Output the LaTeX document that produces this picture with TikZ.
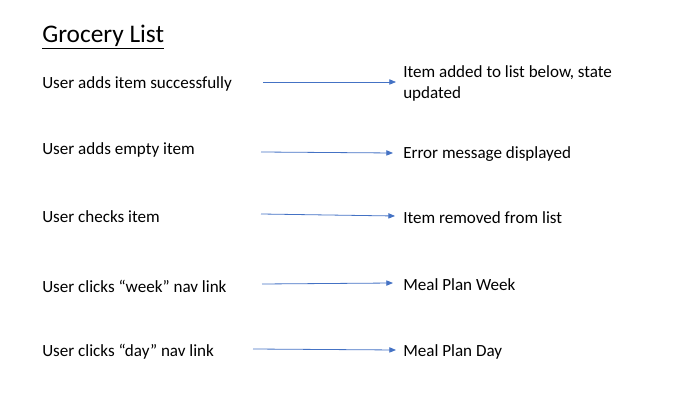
\documentclass[tikz,border=0pt]{standalone}
\usepackage{fontspec}
\setmainfont{Carlito}
\usetikzlibrary{arrows.meta}
\definecolor{arrowblue}{HTML}{4472C4}
\begin{document}
\begin{tikzpicture}[x=0.75pt,y=-0.75pt,
  lbl/.style={anchor=west,inner sep=0pt,yshift=-1.2pt,font=\fontsize{12.8}{15.8}\selectfont},
  conn/.style={draw=arrowblue,line width=0.6pt,-{Triangle[length=5pt,width=4pt]}}]
\path[use as bounding box] (0,0) rectangle (700,420);
\node[anchor=west,inner sep=0pt,font=\fontsize{19}{22}\selectfont] (title) at (42,37) {\underline{Grocery List}};

\node[lbl] (l1) at (42,82) {User adds item successfully};
\node[lbl,align=left] (r1) at (403,82) {Item added to list below, state\\updated};
\coordinate (s1) at (263,82);
\coordinate (e1) at (396,82);
\draw[conn] (s1) -- (e1);

\node[lbl] (l2) at (42,148) {User adds empty item};
\node[lbl] (r2) at (403,152) {Error message displayed};
\coordinate (s2) at (261,152);
\coordinate (e2) at (393,153);
\draw[conn] (s2) -- (e2);

\node[lbl] (l3) at (42,215) {User checks item};
\node[lbl] (r3) at (403,216) {Item removed from list};
\coordinate (s3) at (261,214);
\coordinate (e3) at (395,216);
\draw[conn] (s3) -- (e3);

\node[lbl] (l4) at (42,285) {User clicks “week” nav link};
\node[lbl] (r4) at (403,283) {Meal Plan Week};
\coordinate (s4) at (262,284);
\coordinate (e4) at (393,283);
\draw[conn] (s4) -- (e4);

\node[lbl] (l5) at (42,350) {User clicks “day” nav link};
\node[lbl] (r5) at (403,350) {Meal Plan Day};
\coordinate (s5) at (253,349);
\coordinate (e5) at (396,350);
\draw[conn] (s5) -- (e5);
\end{tikzpicture}
\end{document}
